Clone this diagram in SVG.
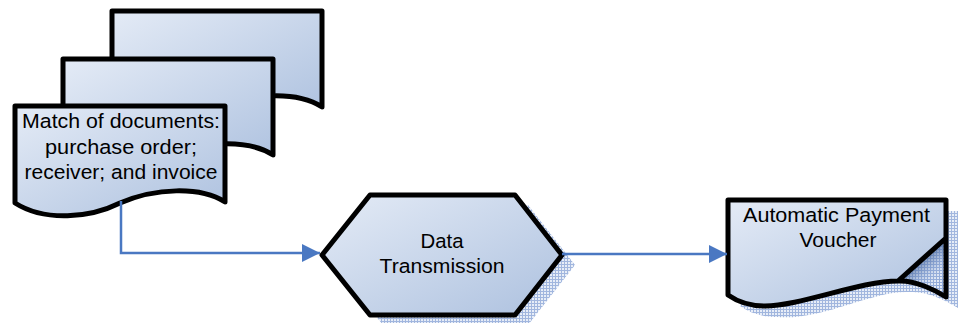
<svg xmlns="http://www.w3.org/2000/svg" width="961" height="323" viewBox="0 0 961 323">
  <defs>
    <linearGradient id="fillGrad" x1="0" y1="0" x2="1" y2="1">
      <stop offset="0" stop-color="#e4ebf6"/>
      <stop offset="1" stop-color="#adc1df"/>
    </linearGradient>
    <linearGradient id="flapGrad" gradientUnits="userSpaceOnUse" x1="921" y1="260" x2="940" y2="282">
      <stop offset="0" stop-color="#3f5f96" stop-opacity="0.7"/>
      <stop offset="0.5" stop-color="#8aa3cf" stop-opacity="0.35"/>
      <stop offset="1" stop-color="#dbe4f3" stop-opacity="0"/>
    </linearGradient>
    <pattern id="hatch" width="3" height="3" patternUnits="userSpaceOnUse">
      <rect width="3" height="3" fill="#e3eaf6"/>
      <path d="M0,0.5 H3 M0.5,0 V3" stroke="#90a9d8" stroke-width="1"/>
    </pattern>
    <marker id="arrow" markerWidth="18" markerHeight="18" refX="18" refY="9" orient="auto" markerUnits="userSpaceOnUse">
      <path d="M0,0 L18,9 L0,18 Z" fill="#4a78c2"/>
    </marker>
    <!-- document page with a wavy lower edge -->
    <path id="docPage" d="M0,0 H210 V96 C185,80 140,82 105,97 C75,112 30,116 0,97 Z"/>
  </defs>
  <style>
    .shape { fill: url(#fillGrad); stroke: #000; stroke-width: 5; stroke-linejoin: round; }
    .shadow { fill: url(#hatch); opacity: 0.85; }
    .label { font-family: "Liberation Sans", Arial, sans-serif; font-size: 20.5px; fill: #000; }
    .conn { fill: none; stroke: #4a78c2; stroke-width: 2.5; marker-end: url(#arrow); }
  </style>

  <!-- stack of matched documents -->
  <g id="match-documents">
    <use href="#docPage" class="shape" transform="translate(112,11)"/>
    <use href="#docPage" class="shape" transform="translate(63,59)"/>
    <use href="#docPage" class="shape" transform="translate(15,106)"/>
    <text class="label" x="22" y="128" textLength="198" lengthAdjust="spacingAndGlyphs">Match of documents:</text>
    <text class="label" x="45" y="154" textLength="152" lengthAdjust="spacingAndGlyphs">purchase order;</text>
    <text class="label" x="24.5" y="179" textLength="193" lengthAdjust="spacingAndGlyphs">receiver; and invoice</text>
  </g>

  <!-- data transmission hexagon -->
  <g id="data-transmission">
    <polygon class="shadow" points="335,265 383,205 528,205 575,265 528,325 383,325"/>
    <polygon class="shape" points="322,255 370,195 515,195 562,255 515,315 370,315"/>
    <text class="label" x="420.5" y="248" textLength="43" lengthAdjust="spacingAndGlyphs">Data</text>
    <text class="label" x="379.5" y="273" textLength="125" lengthAdjust="spacingAndGlyphs">Transmission</text>
  </g>

  <!-- payment voucher with curled corner -->
  <g id="payment-voucher">
    <path class="shadow" d="M740,211 H958 V308 C947,301 927,291 910,292 C872,290 822,321 777,317 C762,317 750,313 740,306 Z"/>
    <path d="M946,238 V297 C935,290 915,280 898,281 Z" fill="url(#hatch)"/>
    <path d="M946,238 V297 C935,290 915,280 898,281 Z" fill="url(#flapGrad)"/>
    <path d="M728,200 H946 V238 L898,281 C860,281 800,306 765,306 C750,306 738,302 728,295 Z" fill="url(#fillGrad)"/>
    <path d="M728,200 H946 V297 C935,290 915,280 898,281 C860,281 800,306 765,306 C750,306 738,302 728,295 Z M946,238 L898,281" fill="none" stroke="#000" stroke-width="5" stroke-linejoin="round"/>
    <text class="label" x="743" y="222" textLength="187" lengthAdjust="spacingAndGlyphs">Automatic Payment</text>
    <text class="label" x="799.5" y="247" textLength="77" lengthAdjust="spacingAndGlyphs">Voucher</text>
  </g>

  <!-- connectors -->
  <g id="connectors">
    <path class="conn" d="M121,201 V253 H320"/>
    <path class="conn" d="M562,254 H727"/>
  </g>
</svg>
